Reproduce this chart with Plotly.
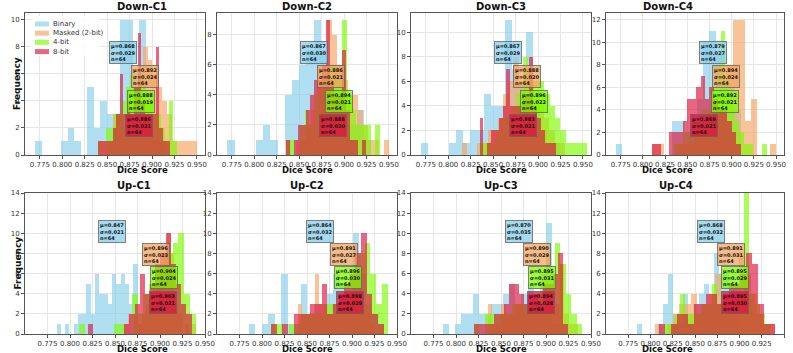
import plotly.graph_objects as go
from plotly.subplots import make_subplots

series_names = ['Binary', 'Masked (2-bit)', '4-bit', '8-bit']
series_colors = ['135,206,235', '244,164,96', '124,252,0', '220,20,60']
panel_titles = ['Down-C1', 'Down-C2', 'Down-C3', 'Down-C4', 'Up-C1', 'Up-C2', 'Up-C3', 'Up-C4']
x_ticks = [0.775, 0.800, 0.825, 0.850, 0.875, 0.900, 0.925, 0.950]
n_samples = 64

# histogram bin ranges (lo, hi) per series, 20 bins each, and counts per bin
dc1_ranges = [(0.770, 0.915), (0.840, 0.950), (0.840, 0.928), (0.840, 0.920)]
dc1_binary = [1, 0, 0, 0, 1, 2, 1, 0, 5, 2, 4, 3, 3, 10, 10, 6, 10, 4, 1, 1]
dc1_masked = [1, 1, 1, 3, 3, 2, 4, 5, 6, 8, 7, 6, 5, 4, 3, 1, 1, 1, 1, 1]
dc1_4bit = [1, 0, 2, 2, 3, 3, 4, 5, 6, 5, 6, 5, 4, 4, 3, 3, 2, 1, 4, 1]
dc1_8bit = [1, 1, 1, 1, 2, 3, 6, 3, 4, 3, 5, 9, 4, 3, 3, 3, 8, 2, 1, 1]

dc2_ranges = [(0.770, 0.930), (0.835, 0.950), (0.835, 0.940), (0.835, 0.925)]
dc2_binary = [1, 0, 0, 0, 1, 2, 1, 0, 4, 5, 6, 7, 9, 7, 5, 6, 4, 2, 3, 1]
dc2_masked = [1, 0, 1, 1, 2, 3, 6, 6, 9, 8, 6, 5, 4, 4, 3, 2, 1, 1, 0, 1]
dc2_4bit = [1, 1, 0, 2, 3, 2, 4, 5, 5, 6, 6, 5, 9, 4, 3, 2, 2, 2, 0, 2]
dc2_8bit = [1, 0, 1, 2, 2, 3, 4, 5, 5, 6, 9, 5, 4, 4, 7, 3, 1, 1, 0, 1]

dc3_ranges = [(0.770, 0.925), (0.815, 0.930), (0.835, 0.955), (0.835, 0.920)]
dc3_binary = [1, 0, 0, 0, 1, 2, 1, 2, 2, 5, 4, 4, 11, 7, 6, 10, 4, 2, 1, 1]
dc3_masked = [1, 0, 0, 1, 1, 2, 2, 3, 5, 6, 8, 6, 7, 6, 5, 4, 3, 2, 1, 1]
dc3_4bit = [1, 1, 1, 2, 3, 3, 4, 5, 8, 6, 6, 6, 5, 4, 3, 2, 1, 1, 1, 1]
dc3_8bit = [3, 0, 1, 2, 2, 3, 4, 7, 4, 4, 4, 5, 5, 8, 4, 3, 2, 1, 1, 1]

dc4_ranges = [(0.770, 0.910), (0.810, 0.950), (0.835, 0.940), (0.810, 0.910)]
dc4_binary = [1, 0, 0, 0, 0, 0, 0, 0, 0, 3, 3, 2, 3, 5, 10, 11, 9, 7, 6, 4]
dc4_masked = [1, 1, 0, 0, 1, 1, 1, 2, 2, 3, 5, 6, 8, 12, 12, 3, 5, 0, 0, 1]
dc4_4bit = [1, 1, 2, 2, 3, 3, 4, 4, 6, 8, 11, 7, 4, 3, 2, 1, 1, 0, 0, 1]
dc4_8bit = [1, 1, 0, 0, 2, 2, 2, 3, 5, 5, 6, 7, 5, 6, 5, 4, 4, 3, 2, 1]

uc1_ranges = [(0.785, 0.880), (0.860, 0.940), (0.810, 0.940), (0.820, 0.935)]
uc1_binary = [1, 0, 1, 0, 1, 2, 2, 5, 2, 6, 4, 4, 3, 6, 5, 6, 5, 3, 7, 1]
uc1_masked = [1, 2, 0, 2, 1, 2, 3, 4, 4, 5, 7, 8, 10, 8, 3, 2, 0, 1, 0, 1]
uc1_4bit = [1, 0, 0, 0, 0, 0, 1, 1, 0, 4, 2, 4, 5, 6, 7, 8, 9, 10, 4, 2]
uc1_8bit = [1, 0, 0, 0, 0, 0, 0, 1, 2, 3, 6, 4, 5, 7, 8, 10, 7, 5, 3, 2]

uc2_ranges = [(0.785, 0.930), (0.840, 0.935), (0.810, 0.940), (0.810, 0.935)]
uc2_binary = [1, 0, 1, 2, 0, 6, 1, 1, 5, 2, 3, 3, 4, 6, 5, 3, 10, 6, 3, 2]
uc2_masked = [3, 2, 2, 2, 6, 3, 3, 2, 3, 3, 4, 5, 6, 8, 5, 3, 2, 1, 0, 1]
uc2_4bit = [1, 1, 0, 1, 1, 2, 2, 2, 2, 3, 3, 3, 3, 4, 5, 8, 9, 6, 3, 5]
uc2_8bit = [1, 0, 1, 0, 2, 2, 2, 3, 3, 5, 2, 3, 4, 5, 6, 8, 10, 4, 2, 1]

uc3_ranges = [(0.785, 0.920), (0.835, 0.935), (0.820, 0.940), (0.820, 0.930)]
uc3_binary = [1, 0, 1, 2, 2, 4, 2, 2, 3, 3, 4, 5, 3, 4, 5, 4, 6, 11, 1, 1]
uc3_masked = [3, 1, 1, 3, 2, 2, 3, 3, 2, 3, 4, 4, 6, 8, 5, 3, 7, 2, 1, 1]
uc3_4bit = [1, 0, 2, 2, 2, 2, 2, 3, 3, 3, 3, 3, 4, 5, 6, 9, 7, 4, 2, 1]
uc3_8bit = [1, 1, 1, 1, 2, 2, 3, 5, 5, 4, 3, 4, 4, 3, 5, 5, 6, 8, 1, 0]

uc4_ranges = [(0.785, 0.900), (0.805, 0.940), (0.815, 0.935), (0.810, 0.940)]
uc4_binary = [1, 0, 0, 0, 1, 3, 6, 2, 1, 4, 2, 3, 4, 5, 3, 8, 6, 6, 5, 4]
uc4_masked = [1, 0, 1, 2, 3, 3, 4, 2, 3, 4, 6, 4, 4, 5, 8, 6, 4, 2, 1, 1]
uc4_4bit = [1, 1, 2, 4, 2, 2, 2, 3, 3, 5, 3, 3, 2, 3, 4, 14, 4, 3, 2, 1]
uc4_8bit = [1, 0, 1, 2, 2, 1, 3, 3, 4, 4, 3, 4, 5, 5, 6, 8, 7, 3, 1, 1]

# mean / std shown in the boxes (Binary, Masked, 4-bit, 8-bit)
dc1_mu, dc1_sd = [0.868, 0.892, 0.888, 0.886], [0.029, 0.024, 0.019, 0.021]
dc2_mu, dc2_sd = [0.867, 0.886, 0.894, 0.888], [0.030, 0.021, 0.021, 0.020]
dc3_mu, dc3_sd = [0.867, 0.888, 0.896, 0.883], [0.029, 0.020, 0.022, 0.021]
dc4_mu, dc4_sd = [0.879, 0.894, 0.892, 0.869], [0.027, 0.024, 0.021, 0.021]
uc1_mu, uc1_sd = [0.847, 0.896, 0.904, 0.903], [0.021, 0.023, 0.024, 0.021]
uc2_mu, uc2_sd = [0.864, 0.891, 0.896, 0.898], [0.032, 0.027, 0.030, 0.029]
uc3_mu, uc3_sd = [0.870, 0.890, 0.895, 0.894], [0.035, 0.029, 0.031, 0.028]
uc4_mu, uc4_sd = [0.868, 0.891, 0.895, 0.895], [0.032, 0.031, 0.029, 0.030]

panels = [
    (dc1_ranges, [dc1_binary, dc1_masked, dc1_4bit, dc1_8bit], dc1_mu, dc1_sd),
    (dc2_ranges, [dc2_binary, dc2_masked, dc2_4bit, dc2_8bit], dc2_mu, dc2_sd),
    (dc3_ranges, [dc3_binary, dc3_masked, dc3_4bit, dc3_8bit], dc3_mu, dc3_sd),
    (dc4_ranges, [dc4_binary, dc4_masked, dc4_4bit, dc4_8bit], dc4_mu, dc4_sd),
    (uc1_ranges, [uc1_binary, uc1_masked, uc1_4bit, uc1_8bit], uc1_mu, uc1_sd),
    (uc2_ranges, [uc2_binary, uc2_masked, uc2_4bit, uc2_8bit], uc2_mu, uc2_sd),
    (uc3_ranges, [uc3_binary, uc3_masked, uc3_4bit, uc3_8bit], uc3_mu, uc3_sd),
    (uc4_ranges, [uc4_binary, uc4_masked, uc4_4bit, uc4_8bit], uc4_mu, uc4_sd),
]

y_ranges = [10.5, 9.45, 11.55, 12.6, 14, 14, 14, 14]
x_ranges = [[0.7585, 0.959]] * 4 + [[0.750, 0.950]] * 4

FONT = 'DejaVu Sans'
W, H = 793, 353
ML, MR, MT, MB = 25, 9, 13, 19
PW, PH = W - ML - MR, H - MT - MB


def px_x(px):
    return (px - ML) / PW


def px_y(py):
    return 1 - (py - MT) / PH


x_domains = [[px_x(25), px_x(205)], [px_x(217), px_x(397)], [px_x(411), px_x(591)], [px_x(606), px_x(784)]]
y_domains = [[px_y(155), px_y(13)], [px_y(334), px_y(193)]]
box_y_top = [0.72, 0.555, 0.375, 0.21]
box_y_bot = [0.73, 0.565, 0.40, 0.225]

fig = make_subplots(rows=2, cols=4)

for p, (ranges, counts_list, mus, sds) in enumerate(panels):
    row, col = p // 4 + 1, p % 4 + 1
    for s, counts in enumerate(counts_list):
        lo, hi = ranges[s]
        w = (hi - lo) / len(counts)
        centers = [lo + w * (i + 0.5) for i in range(len(counts))]
        fig.add_trace(
            go.Bar(
                x=centers,
                y=counts,
                width=w,
                name=series_names[s],
                marker=dict(color='rgba(%s,0.65)' % series_colors[s], line=dict(width=0)),
                showlegend=False,
                hoverinfo='skip',
            ),
            row=row,
            col=col,
        )

    ax = '' if p == 0 else str(p + 1)
    fig.layout['xaxis' + ax].update(
        domain=x_domains[col - 1], range=x_ranges[p], tickvals=x_ticks, tickformat='.3f',
        tickangle=0, automargin=False,
        showgrid=True, gridcolor='#e6e6e6', gridwidth=1, zeroline=False,
        showline=True, mirror=True, linecolor='#555555', linewidth=1,
        ticks='outside', ticklen=3, tickcolor='#555555',
        tickfont=dict(family=FONT, size=7, color='#333333'),
    )
    fig.layout['yaxis' + ax].update(
        domain=y_domains[row - 1], range=[0, y_ranges[p]], dtick=2, automargin=False,
        showgrid=True, gridcolor='#e6e6e6', gridwidth=1, zeroline=False,
        showline=True, mirror=True, linecolor='#555555', linewidth=1,
        ticks='outside', ticklen=3, tickcolor='#555555',
        tickfont=dict(family=FONT, size=7, color='#333333'),
    )

    xd, yd = x_domains[col - 1], y_domains[row - 1]
    # panel title
    fig.add_annotation(
        text='<b>%s</b>' % panel_titles[p], xref='paper', yref='paper',
        x=(xd[0] + xd[1]) / 2, y=yd[1], yshift=7, yanchor='middle', showarrow=False,
        font=dict(family=FONT, size=10, color='#111111'),
    )
    # x axis title
    fig.add_annotation(
        text='<b>Dice Score</b>', xref='paper', yref='paper',
        x=(xd[0] + xd[1]) / 2, y=yd[0], yshift=-15, yanchor='middle', showarrow=False,
        font=dict(family=FONT, size=8.5, color='#111111'),
    )
    if col == 1:
        fig.add_annotation(
            text='<b>Frequency</b>', xref='paper', yref='paper', textangle=-90,
            x=0, xshift=-15, y=(yd[0] + yd[1]) / 2, yanchor='middle', showarrow=False,
            font=dict(family=FONT, size=9, color='#111111'),
        )

    # stats boxes
    fracs = box_y_top if row == 1 else box_y_bot
    for s in range(4):
        fig.add_annotation(
            text='<b>μ=%.3f<br>σ=%.3f<br>n=%d</b>' % (mus[s], sds[s], n_samples),
            xref='x' + ax, yref='y' + ax, x=mus[s], y=fracs[s] * y_ranges[p],
            showarrow=False, align='left', xanchor='center', yanchor='middle',
            font=dict(family=FONT, size=5, color='#111111'),
            bgcolor='rgba(%s,0.75)' % series_colors[s],
            bordercolor='rgba(100,100,100,0.8)', borderwidth=1, borderpad=1,
        )

# legend drawn by hand inside Down-C1 (compact, like matplotlib's)
fig.add_shape(
    type='rect', xref='paper', yref='paper', x0=px_x(31), x1=px_x(99), y0=px_y(56), y1=px_y(16),
    fillcolor='rgba(255,255,255,0.85)', line=dict(width=0), layer='above',
)
for s, name in enumerate(series_names):
    cy = 24 + s * 9.2
    fig.add_shape(
        type='rect', xref='paper', yref='paper', x0=px_x(35), x1=px_x(49),
        y0=px_y(cy + 2.5), y1=px_y(cy - 2.5),
        fillcolor='rgba(%s,0.65)' % series_colors[s], line=dict(width=0), layer='above',
    )
    fig.add_annotation(
        text=name, xref='paper', yref='paper', x=px_x(51), y=px_y(cy),
        xanchor='left', yanchor='middle', showarrow=False,
        font=dict(family=FONT, size=7, color='#333333'),
    )

fig.update_layout(
    width=W,
    height=H,
    margin=dict(l=ML, r=MR, t=MT, b=MB, autoexpand=False),
    barmode='overlay',
    bargap=0,
    plot_bgcolor='white',
    paper_bgcolor='white',
    font=dict(family=FONT),
    showlegend=False,
)

# page body has a default 8px margin; remove it so the figure sits at the corner
fig.write_html(
    'out.html',
    config={'displayModeBar': False},
    post_script="document.body.style.margin='0';",
)
